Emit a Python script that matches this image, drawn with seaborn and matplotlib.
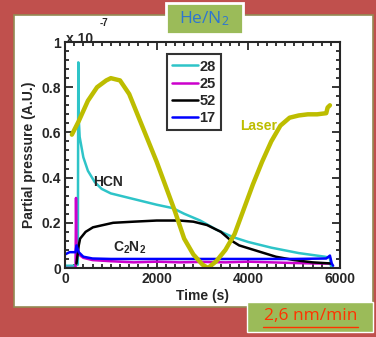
import numpy as np
import pandas as pd
import seaborn as sns
import matplotlib
matplotlib.use("Agg")
import matplotlib.pyplot as plt
from matplotlib.patches import Rectangle
from matplotlib.ticker import MultipleLocator

# ---------------- data ----------------
t_laser = [150, 300, 500, 700, 900, 1000, 1200, 1400, 1600, 1800, 2000, 2200,
           2400, 2600, 2800, 3000, 3120, 3300, 3500, 3700, 3900, 4100, 4300,
           4500, 4700, 4900, 5100, 5300, 5500, 5700, 5730, 5780]
laser = [0.59, 0.65, 0.74, 0.80, 0.83, 0.84, 0.83, 0.77, 0.67, 0.57, 0.47, 0.36,
         0.25, 0.13, 0.06, 0.015, 0.0, 0.03, 0.08, 0.15, 0.26, 0.37, 0.47,
         0.56, 0.63, 0.665, 0.675, 0.68, 0.68, 0.685, 0.71, 0.72]

t_28 = [0, 200, 280, 290, 300, 320, 400, 500, 650, 800, 1000, 1200, 1600, 2000,
        2350, 2600, 2950, 3300, 3660, 4000, 4500, 5100, 5670, 5780, 5800, 5830]
m_28 = [0.01, 0.01, 0.015, 0.91, 0.66, 0.58, 0.49, 0.43, 0.38, 0.35, 0.33, 0.32,
        0.30, 0.28, 0.265, 0.24, 0.21, 0.17, 0.137, 0.115, 0.09, 0.066, 0.05,
        0.045, 0.01, 0.0]

t_25 = [0, 230, 240, 250, 300, 400, 600, 1000, 1500, 2000, 2500, 3000, 3500,
        4000, 4500, 5000, 5500, 5800]
m_25 = [0.0, 0.0, 0.31, 0.10, 0.06, 0.045, 0.035, 0.03, 0.025, 0.028, 0.025,
        0.027, 0.025, 0.028, 0.025, 0.022, 0.02, 0.02]

t_52 = [250, 300, 330, 450, 610, 1050, 1500, 2000, 2500, 2800, 3100, 3400,
        3600, 3800, 4200, 4600, 5000, 5400, 5800]
m_52 = [0.02, 0.10, 0.13, 0.16, 0.18, 0.20, 0.205, 0.21, 0.21, 0.205, 0.19,
        0.16, 0.125, 0.10, 0.075, 0.05, 0.035, 0.025, 0.02]

t_17 = [0, 100, 230, 250, 300, 400, 600, 1000, 2000, 3000, 4000, 5000, 5700,
        5780, 5820, 5850]
m_17 = [0.06, 0.07, 0.07, 0.10, 0.07, 0.05, 0.042, 0.04, 0.04, 0.04, 0.04,
        0.04, 0.042, 0.055, 0.02, 0.01]

x_ticks = [0, 2000, 4000, 6000]
y_ticks = [0, 0.2, 0.4, 0.6, 0.8, 1]
y_ticklabels = ["0", "0.2", "0.4", "0.6", "0.8", "1"]

series = [("28", t_28, m_28, "#2EC4C8"),
          ("25", t_25, m_25, "#CC00CC"),
          ("52", t_52, m_52, "#000000"),
          ("17", t_17, m_17, "#0000FF")]

# ---------------- figure ----------------
sns.set_style("ticks")
plt.rcParams["font.family"] = ["Liberation Sans", "DejaVu Sans"]
plt.rcParams["mathtext.default"] = "regular"

W, H = 376, 337
fig = plt.figure(figsize=(W / 100, H / 100), dpi=100)
fig.patch.set_facecolor("#C0504D")

def fx(px):
    return px / W

def fy(py):
    return 1 - py / H

# white panel (behind the axes)
fig.patches.append(Rectangle((fx(14), fy(307)), fx(373) - fx(14), fy(15) - fy(307),
                             transform=fig.transFigure, facecolor="white",
                             edgecolor="#948A54", linewidth=1.2, zorder=-5))

ax = fig.add_axes([fx(65), fy(268), fx(340) - fx(65), fy(42) - fy(268)])
ax.set_zorder(2)
ax.set_facecolor("white")

for label, t, m, c in series:
    df = pd.DataFrame({"t": t, "v": m})
    sns.lineplot(data=df, x="t", y="v", ax=ax, color=c, linewidth=1.8,
                 label=label, sort=False, estimator=None)

df_l = pd.DataFrame({"t": t_laser, "v": laser})
sns.lineplot(data=df_l, x="t", y="v", ax=ax, color="#BDBD00", linewidth=3.2,
             sort=False, estimator=None, legend=False)

ax.set_xlim(0, 6000)
ax.set_ylim(0, 1)
ax.set_xticks(x_ticks)
ax.set_xticklabels([str(v) for v in x_ticks], fontsize=10, fontweight="bold")
ax.set_yticks(y_ticks)
ax.set_yticklabels(y_ticklabels, fontsize=10, fontweight="bold")
ax.xaxis.set_minor_locator(MultipleLocator(200))
ax.yaxis.set_minor_locator(MultipleLocator(0.04))
ax.tick_params(which="both", direction="in", top=True, right=True, width=1.3)
ax.tick_params(which="major", length=6, pad=3)
ax.tick_params(which="minor", length=3)
for s in ax.spines.values():
    s.set_linewidth(1.5)
    s.set_visible(True)

ax.set_xlabel("Time (s)", fontsize=10, fontweight="bold", labelpad=2)
ax.set_ylabel("Partial pressure (A.U.)", fontsize=10, fontweight="bold", labelpad=4)

leg = ax.legend(loc="upper left", bbox_to_anchor=(0.37, 0.945), frameon=True,
                fancybox=False, edgecolor="black", fontsize=10.5, handlelength=1.8,
                handletextpad=0.1, borderpad=0.35, labelspacing=0.22,
                borderaxespad=0)
leg.get_frame().set_linewidth(1.5)
for txt in leg.get_texts():
    txt.set_fontweight("bold")

# annotations
ax.text(611, 0.38, "HCN", fontsize=10, fontweight="bold", va="center")
ax.text(1047, 0.088, "C$_2$N$_2$", fontsize=10, fontweight="bold", va="center")
ax.text(3815, 0.63, "Laser", fontsize=10, fontweight="bold", va="center",
        color="#BDBD00")
ax.text(0.005, 1.015, "x 10", transform=ax.transAxes, fontsize=10,
        fontweight="bold", va="center")
ax.text(0.125, 1.085, "-7", transform=ax.transAxes, fontsize=7,
        fontweight="bold", va="center")

# title box
fig.patches.append(Rectangle((fx(166), fy(34)), fx(243) - fx(166), fy(3) - fy(34),
                             transform=fig.transFigure, facecolor="#9BBB59",
                             edgecolor="white", linewidth=2, zorder=5))
fig.text(fx(204.5), fy(18.5), "He/N$_2$", color="#2E75D0", fontsize=12.5,
         fontweight="normal", ha="center", va="center", zorder=6,
         family=["Open Sans", "DejaVu Sans"])

# bottom box
fig.patches.append(Rectangle((fx(247), fy(332)), fx(373) - fx(247), fy(302) - fy(332),
                             transform=fig.transFigure, facecolor="#9BBB59",
                             edgecolor="white", linewidth=1, zorder=5))
fig.text(fx(310.5), fy(316), "2,6 nm/min", color="#FF3300", fontsize=12.5,
         fontweight="normal", ha="center", va="center", zorder=6,
         family=["Open Sans", "DejaVu Sans"])
fig.lines.append(plt.Line2D([fx(263), fx(358)], [fy(326.5), fy(326.5)],
                            transform=fig.transFigure, color="#FF3300",
                            linewidth=1, zorder=6))

fig.savefig("out.png", dpi=100, facecolor=fig.get_facecolor())
